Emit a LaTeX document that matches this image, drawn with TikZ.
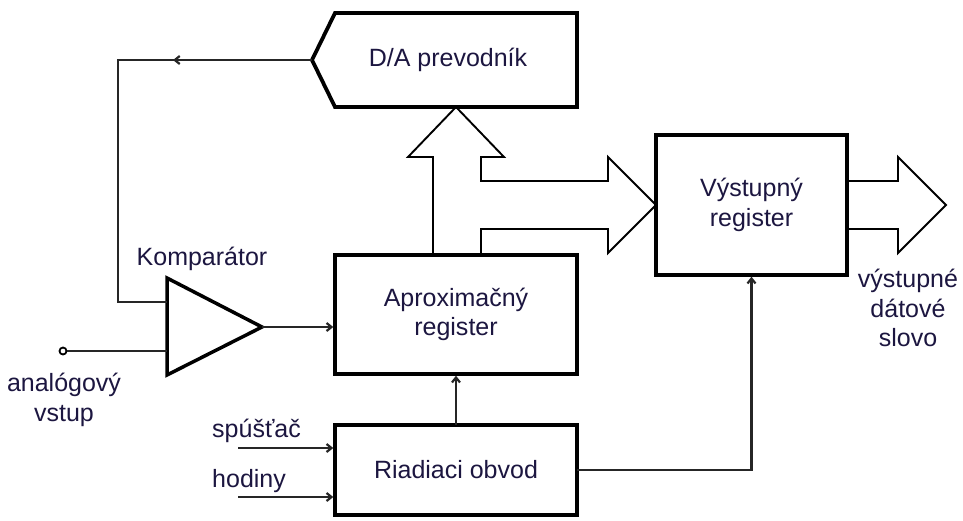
\documentclass[tikz,border=0pt]{standalone}
\usepackage{fontspec}
\setmainfont{Liberation Sans}
\usetikzlibrary{arrows.meta,calc,decorations.markings}
\definecolor{labelink}{RGB}{28,22,64}
\newcommand\diafont{\fontsize{25}{29.5}\selectfont}

\begin{document}
\begin{tikzpicture}[x=1pt,y=-1pt,
  unit/.style={draw, line width=3.8pt, inner sep=0pt, outer sep=0pt,
    align=center, font=\diafont, text=labelink},
  lbl/.style={font=\diafont, text=labelink, inner sep=0pt, align=center},
  wire/.style={line width=2.2pt, draw=black!85},
  bus/.style={line width=1.9pt, line join=miter},
  tip/.style={-{Straight Barb[length=5pt,width=8pt]}, shorten >=1.7pt},
]
% canvas
\fill[white] (0,0) rectangle (963,520);
\useasboundingbox (0,0) rectangle (963,520);

% functional blocks
\node[unit, minimum width=242pt, minimum height=119pt] (aprox) at (456,314.5) {Aproximačný\\register};
\node[unit, minimum width=242pt, minimum height=90pt] (riad) at (456,470) {Riadiaci obvod};
\node[unit, minimum width=191pt, minimum height=140pt] (vyst) at (751.5,205) {Výstupný\\register};
\node[unit, draw=none, minimum width=258pt, minimum height=94pt] (da) at (448,60) {D/A prevodník};
\coordinate (datip) at ([xshift=-7pt]da.west);
\draw[line width=3.8pt, line join=miter]
  ([xshift=16pt]da.north west) -- (da.north east) -- (da.south east)
  -- ([xshift=16pt]da.south west) -- (datip) -- cycle;

% comparator
\coordinate (cmpA) at (167,278);
\coordinate (cmpB) at (167,375);
\coordinate (cmpout) at (262,327);
\coordinate (cin1) at (167,302);
\coordinate (cin2) at (167,351);
\draw[line width=3.5pt, line join=miter] (cmpA) -- (cmpout) -- (cmpB) -- cycle;
\node[lbl, anchor=base] (komplbl) at (202,265) {Komparátor};

% analog input terminal
\node[circle, draw, line width=1.8pt, minimum size=7pt, inner sep=0pt] (ain) at (63,351) {};
\draw[wire] (ain) -- (cin2);
\node[lbl] (ainlbl) at (64,400) {analógový\\vstup};

% feedback from the D/A converter
\coordinate (fb) at ([xshift=-49pt]cin1);
\draw[wire, postaction={decorate}, decoration={markings,
    mark=at position 139pt with {\arrow{Straight Barb[length=5pt,width=8pt]}}}]
  (datip) -| (fb) -- (cin1);

% signal connectors
\draw[wire, tip] (cmpout) -- (cmpout -| aprox.west);
\draw[wire, tip] (riad.north) -- (aprox.south);
\draw[wire, tip] (riad.east) -| (vyst.south);
\coordinate (trig) at (238,448);
\coordinate (clk) at (238,497);
\draw[wire, tip] (trig) -- (trig -| riad.west);
\draw[wire, tip] (clk) -- (clk -| riad.west);
\node[lbl, anchor=base west] (triglbl) at (212,437) {spúšťač};
\node[lbl, anchor=base west] (clklbl) at (212,487) {hodiny};

% data buses
\draw[bus] ($(aprox.north)+(-23,0)$) -- (433,157) -- (408,157)
  -- (aprox.north |- da.south) -- (504,157) -- (481,157) -- (481,181)
  -- (608,181) -- (608,157) -- (vyst.west) -- (608,253) -- (608,229)
  -- (481,229) -- ($(aprox.north)+(25,0)$);
\coordinate (dout) at (946,205);
\draw[bus] ($(vyst.east)+(0,-24)$) -- (898,181) -- (898,157) -- (dout)
  -- (898,253) -- (898,229) -- ($(vyst.east)+(0,24)$);
\node[lbl] (doutlbl) at (908,308) {výstupné\\dátové\\slovo};
\end{tikzpicture}
\end{document}
